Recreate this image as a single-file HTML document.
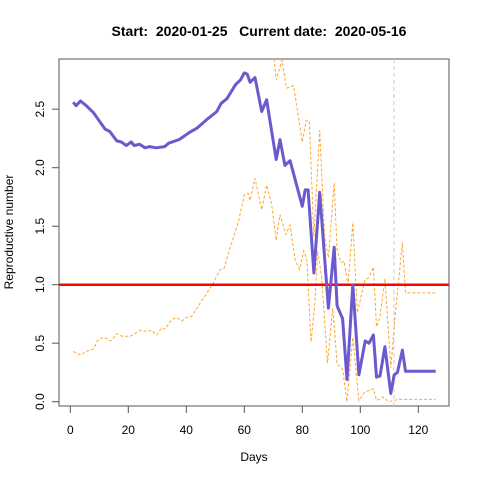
<!DOCTYPE html>
<html><head><meta charset="utf-8"><style>
html,body{margin:0;padding:0;background:#fff}
svg{display:block;font-family:"Liberation Sans",sans-serif}
</style></head><body>
<svg id="chart" width="480" height="480" viewBox="0 0 480 480">
<defs><clipPath id="clip"><rect x="59" y="59" width="390" height="347"/></clipPath></defs>
<text x="259" y="36" text-anchor="middle" font-weight="bold" font-size="14" style="white-space:pre" xml:space="preserve">Start:  2020-01-25   Current date:  2020-05-16</text>
<rect x="59" y="59" width="390" height="347" fill="none" stroke="#555" stroke-width="1"/>
<g id="axes"></g>
<g id="marks" clip-path="url(#clip)"></g>
<text x="254" y="461" text-anchor="middle" font-size="12">Days</text>
<text transform="translate(13,232) rotate(-90)" text-anchor="middle" font-size="12">Reproductive number</text>
</svg>
<script>
const xTicks=[0,20,40,60,80,100,120];
const yTicks=[0,0.5,1,1.5,2,2.5];
const yTickLabels=["0.0","0.5","1.0","1.5","2.0","2.5"];
const meanDays=[1,2,3.5,5.5,8,9.7,12,13.6,16,17.6,19.3,21,22,23.9,25.8,27.3,29.6,32.5,34,37.5,41,43.8,47,50.5,52,54,57,58.7,60,61,62,63.7,66,67.7,71,72.3,74,75.8,80,81,82,84,86,89,91,92,93.9,95.4,97.4,99.5,101.7,103,104.5,105.6,106.8,108.5,110.5,111.7,112.8,114.5,115.6,126];
const meanVals=[2.56,2.53,2.57,2.53,2.47,2.41,2.33,2.31,2.23,2.22,2.19,2.22,2.19,2.2,2.17,2.18,2.17,2.18,2.21,2.24,2.3,2.34,2.41,2.48,2.55,2.59,2.71,2.75,2.81,2.8,2.73,2.77,2.48,2.58,2.07,2.24,2.02,2.06,1.67,1.81,1.81,1.1,1.79,0.8,1.32,0.82,0.71,0.19,1.0,0.23,0.52,0.5,0.57,0.21,0.22,0.47,0.07,0.23,0.25,0.44,0.26,0.26];
const upperDays=[69,70.3,71,73,74.6,77,80,81.3,82.4,84,86,87.7,89,91,92,93.4,94.4,95.8,97.4,99,101.6,103,104.5,105.6,106.8,108.5,110.5,112,114.5,115.6,126];
const upperVals=[3.1,2.92,2.75,2.92,2.68,2.7,2.22,2.4,2.4,1.41,2.32,1.41,1.23,1.87,1.29,1.19,1.2,1.0,1.53,0.76,1.04,1.06,1.15,0.64,0.73,1.05,0.29,0.73,1.36,0.93,0.93];
const lowerDays=[1,2.5,3.6,5.5,8,9.3,11.5,14,16,17.9,20.7,24.1,26.4,28,29.8,31.5,32.6,35,36.7,38.5,40,41.9,46,49,51.7,53,54.7,58,60,61.3,62,63.7,66,67.7,69.4,71,72.3,74.3,75.8,77.5,79,80.5,81.6,83,84.2,85.3,86.7,88.7,90.5,92,93.9,95.4,97.4,99.5,101.5,104.5,105.6,108,109.8,113,126];
const lowerVals=[0.43,0.41,0.4,0.43,0.45,0.52,0.55,0.52,0.58,0.56,0.56,0.61,0.6,0.61,0.57,0.63,0.62,0.7,0.72,0.69,0.72,0.73,0.89,1.0,1.13,1.14,1.28,1.54,1.77,1.78,1.72,1.91,1.64,1.85,1.69,1.38,1.6,1.43,1.51,1.21,1.13,1.29,1.21,0.51,0.8,1.29,1.06,0.33,0.8,0.32,0.28,0.0,0.55,0.01,0.08,0.11,0.01,0.04,0.0,0.02,0.02];
const refLine=1.0;
const currentDay=111.6;

const xs=d=>70.3+d*2.9;
const ys=v=>401.7-v*117;
const NS="http://www.w3.org/2000/svg";
const axes=document.getElementById('axes'),marks=document.getElementById('marks');
function mk(tag,attrs,parent){const e=document.createElementNS(NS,tag);for(const k in attrs)e.setAttribute(k,attrs[k]);parent.appendChild(e);return e;}
mk('line',{x1:xs(xTicks[0]),x2:xs(xTicks[xTicks.length-1]),y1:406,y2:406,stroke:'#555'},axes);
xTicks.forEach(t=>{
  const l=mk('line',{x1:xs(t),x2:xs(t),y1:406,y2:413,stroke:'#555'},axes);
  
  
  const tx=mk('text',{x:xs(t),y:434,'text-anchor':'middle','font-size':12},axes);
  tx.textContent=t;
  
  
});
yTicks.forEach((t,i)=>{
  const l=mk('line',{x1:52,x2:59,y1:ys(t),y2:ys(t),stroke:'#555'},axes);
  
  
  const tx=mk('text',{transform:`translate(44,${ys(t)}) rotate(-90)`,'text-anchor':'middle','font-size':12},axes);
  tx.textContent=yTickLabels[i];
  
  
});
function path(days,vals){return days.map((d,i)=>(i?'L':'M')+xs(d).toFixed(1)+' '+ys(vals[i]).toFixed(1)).join(' ');}
const cl=mk('line',{x1:xs(currentDay),x2:xs(currentDay),y1:59,y2:406,stroke:'#ccc','stroke-dasharray':'4 3'},marks);


const up=mk('path',{d:path(upperDays,upperVals),fill:'none',stroke:'#ffa530','stroke-width':1,'stroke-dasharray':'3 2'},marks);


const lo=mk('path',{d:path(lowerDays,lowerVals),fill:'none',stroke:'#ffa530','stroke-width':1,'stroke-dasharray':'3 2'},marks);


const rl=mk('line',{x1:59,x2:449,y1:ys(refLine),y2:ys(refLine),stroke:'#ff0000','stroke-width':2.5},marks);


const mn=mk('path',{d:path(meanDays,meanVals),fill:'none',stroke:'#6a5acd','stroke-width':3,'stroke-linejoin':'round'},marks);


</script>
</body></html>
